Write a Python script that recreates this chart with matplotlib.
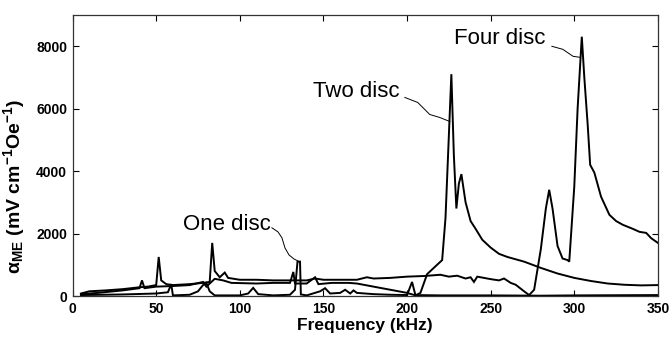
import matplotlib
matplotlib.use("Agg")
import matplotlib.pyplot as plt
import numpy as np

plt.rcParams['font.family'] = ['Liberation Sans', 'DejaVu Sans']
plt.rcParams['mathtext.fontset'] = 'custom'
plt.rcParams['mathtext.rm'] = 'Liberation Sans'
plt.rcParams['mathtext.bf'] = 'Liberation Sans:bold'
plt.rcParams['mathtext.it'] = 'Liberation Sans:italic'

# ---- data (frequency kHz, alpha_ME mV cm^-1 Oe^-1) ----
one_f = [5, 30, 50, 57, 59, 60, 70, 75, 78, 80, 82, 85, 100, 105, 108, 111, 120, 130, 133,
         134.5, 136, 136.5, 140, 148, 151, 154, 160, 163, 166, 168, 170, 180, 190, 200,
         203, 205, 220, 250, 280, 300, 350]
one_v = [30, 50, 80, 120, 380, 20, 40, 150, 350, 420, 150, 20, 20, 80, 260, 60, 20, 40, 200,
         1100, 1100, 50, 20, 150, 250, 80, 100, 200, 80, 180, 100, 60, 40, 30,
         450, 30, 20, 20, 10, 20, 30]

two_f = [5, 15, 30, 40, 41.5, 43, 50, 60, 70, 78, 80, 85, 90, 95, 110, 120, 130, 132, 133,
         140, 145, 147, 155, 165, 170, 180, 190, 200, 205, 208, 212, 216, 221, 223, 226.5,
         228, 229.5, 231, 232.5, 235, 238, 241, 245, 250, 255, 260, 270, 280, 290, 300,
         310, 320, 330, 340, 350]
two_v = [60, 100, 180, 250, 500, 250, 300, 320, 350, 450, 300, 550, 500, 420, 400, 420, 420,
         770, 400, 400, 600, 380, 420, 420, 400, 300, 200, 100, 20, 100, 700, 900, 1150,
         2500, 7100, 4500, 2800, 3600, 3900, 3000, 2400, 2150, 1800, 1550, 1350, 1250,
         1100, 900, 720, 580, 480, 400, 360, 340, 350]

four_f = [5, 10, 20, 30, 35, 40, 45, 50, 51.5, 53, 56, 60, 70, 78, 82, 83.5, 85, 88, 91, 93,
          100, 110, 120, 130, 140, 145, 150, 160, 170, 176, 180, 190, 200, 210, 220, 225,
          230, 235, 238, 240, 242, 250, 255, 258, 262, 265, 270, 273, 276, 280, 283, 285,
          287, 290, 293, 296, 297, 300, 302, 304.5, 306, 308, 309.5, 312, 316, 321, 325,
          329, 335, 339, 343, 346, 350]
four_v = [80, 150, 180, 220, 250, 280, 300, 350, 1250, 500, 380, 350, 380, 420, 450, 1700,
          800, 600, 750, 580, 520, 520, 500, 500, 500, 560, 520, 520, 520, 600, 560, 580,
          620, 640, 680, 620, 650, 560, 600, 450, 620, 540, 500, 560, 420, 360, 150, 30,
          200, 1500, 2800, 3400, 2800, 1600, 1200, 1150, 1100, 3500, 6000, 8300, 7000,
          5500, 4200, 3950, 3180, 2600, 2400, 2280, 2150, 2054, 2020, 1850, 1700]

xticks = [0, 50, 100, 150, 200, 250, 300, 350]
yticks = [0, 2000, 4000, 6000, 8000]

fig = plt.figure(figsize=(6.72, 3.45), dpi=100)
ax = fig.add_axes([0.108, 0.142, 0.871, 0.815])

for f, v in [(one_f, one_v), (two_f, two_v), (four_f, four_v)]:
    ax.plot(f, v, color='black', lw=1.4, solid_joinstyle='miter')

ax.set_xlim(0, 350)
ax.set_ylim(0, 9000)
ax.set_xticks(xticks)
ax.set_yticks(yticks)
ax.tick_params(direction='in', top=True, right=True, length=4, width=0.8,
               labelsize=10, pad=4)
for lab in ax.get_xticklabels() + ax.get_yticklabels():
    lab.set_fontweight('bold')
for s in ax.spines.values():
    s.set_linewidth(0.9)
    s.set_color('#333333')

ax.set_xlabel('Frequency (kHz)', fontsize=12.5, fontweight='bold', labelpad=2)
ax.set_ylabel(r'$\mathbf{\alpha_{ME}}$ (mV cm$^{\mathbf{-1}}$Oe$^{\mathbf{-1}}$)',
              fontsize=14, fontweight='bold')
ax.yaxis.set_label_coords(-0.078, 0.39)

# annotations with leader lines
ax.text(92.6, 2280, 'One disc', fontsize=16, ha='center', va='center')
ax.plot([119.2, 122.8, 125.2, 127, 129.4, 132.3, 135.9],
        [2183, 2054, 1862, 1541, 1316, 1188, 1091], color='black', lw=0.7)

ax.text(169.5, 6548, 'Two disc', fontsize=16, ha='center', va='center')
ax.plot([198.7, 206.4, 213.6, 219.6, 225.6],
        [6356, 6195, 5810, 5714, 5585], color='black', lw=0.7)

ax.text(255.5, 8250, 'Four disc', fontsize=16, ha='center', va='center')
ax.plot([286.6, 293.1, 299.3, 303.5],
        [7993, 7897, 7672, 7640], color='black', lw=0.7)

fig.savefig('out.png', dpi=100)
